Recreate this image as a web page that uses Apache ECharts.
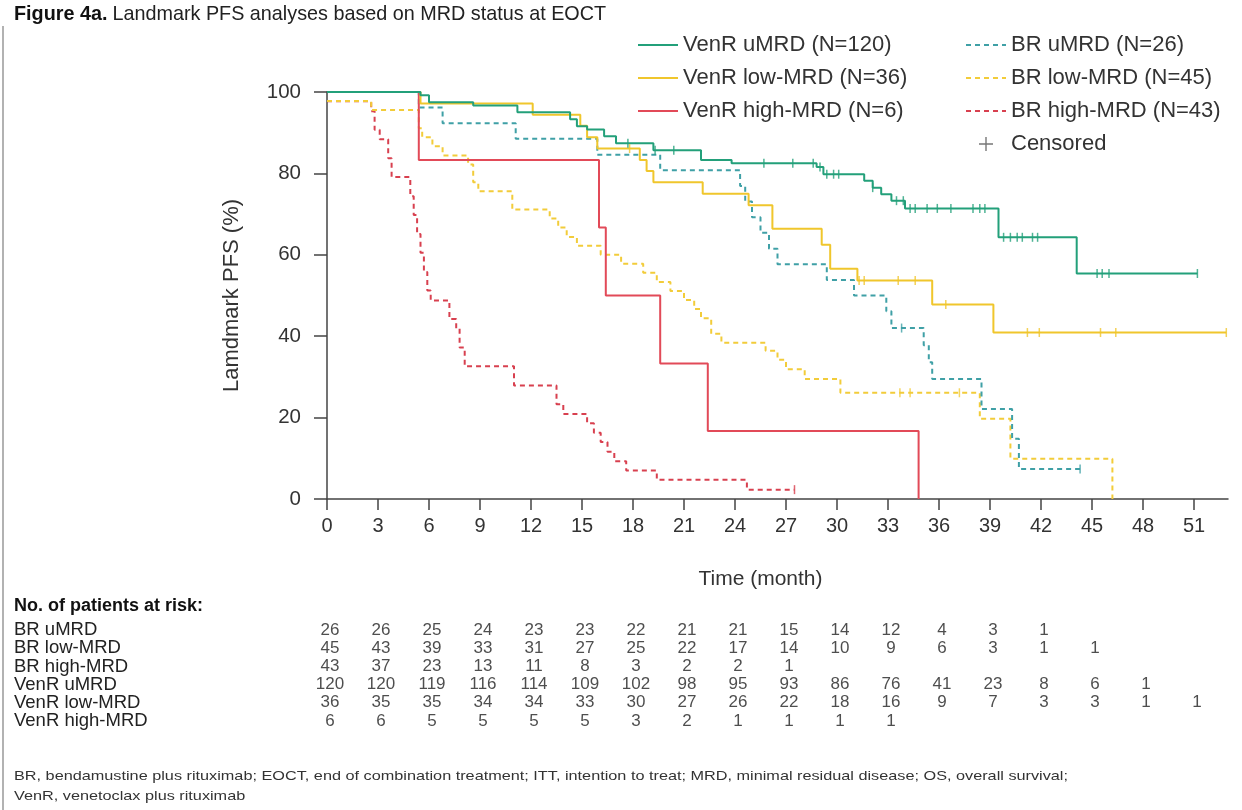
<!DOCTYPE html>
<html><head><meta charset="utf-8">
<script src="https://cdn.jsdelivr.net/npm/echarts@6/dist/echarts.min.js"></script>
<style>html,body{margin:0;padding:0;background:#fff}#c{width:1242px;height:810px}</style>
</head><body><div id="c"></div>
<script>
// ---------- data ----------
const xTicks = [0,3,6,9,12,15,18,21,24,27,30,33,36,39,42,45,48,51];
const yTicks = [0,20,40,60,80,100];

const nameVenrU = 'VenR uMRD (N=120)';
const nameVenrL = 'VenR low-MRD (N=36)';
const nameVenrH = 'VenR high-MRD (N=6)';
const nameBrU = 'BR uMRD (N=26)';
const nameBrL = 'BR low-MRD (N=45)';
const nameBrH = 'BR high-MRD (N=43)';
const nameCens = 'Censored';

// KM curves: [time (month), PFS % after event]
const venrUmrd = [[0,100],[5.5,99.2],[6.0,97.5],[8.6,96.7],[11.2,95.0],[14.3,93.3],[14.7,91.6],[15.3,90.8],[16.3,89.1],[17.0,87.4],[19.2,85.7],[22.0,83.3],[23.8,82.5],[28.8,81.6],[29.2,79.8],[31.6,78.2],[32.1,76.5],[32.6,74.9],[33.2,73.3],[34.0,71.4],[39.5,64.3],[44.1,55.4],[51.2,55.4]];
const venrLow = [[0,100],[5.5,97.2],[12.1,94.4],[14.9,91.7],[15.3,88.9],[15.9,86.1],[18.4,83.3],[18.8,80.6],[19.2,77.8],[22.1,75.0],[24.8,72.2],[26.2,66.4],[29.1,62.5],[29.6,56.6],[31.2,53.7],[35.6,47.8],[39.2,40.9],[52.9,40.9]];
const venrHigh = [[0,100],[5.4,83.3],[16.0,66.7],[16.4,50.0],[19.6,33.3],[22.4,16.7],[34.8,0]];
const brUmrd = [[0,100],[5.4,96.2],[6.8,92.3],[11.1,88.5],[15.9,84.6],[19.6,80.8],[24.3,76.9],[24.6,73.1],[25.0,69.2],[25.5,65.4],[26.0,61.5],[26.5,57.7],[29.4,53.8],[31.0,50.0],[32.9,46.1],[33.2,42.0],[35.1,37.8],[35.4,33.6],[35.6,29.5],[38.5,22.1],[40.3,14.8],[40.7,7.4],[44.3,7.4]];
const brLow = [[0,97.8],[2.6,95.6],[5.4,91.1],[5.6,88.9],[6.2,86.7],[6.8,84.4],[8.3,82.2],[8.6,77.8],[8.9,75.6],[10.9,71.1],[13.1,68.9],[13.6,66.7],[14.1,64.4],[14.7,62.2],[16.1,60.0],[17.3,57.8],[18.6,55.6],[19.4,53.3],[20.2,51.1],[21.0,48.9],[21.6,46.7],[22.0,44.4],[22.6,40.6],[23.2,38.4],[25.8,36.4],[26.5,34.2],[27.0,31.9],[28.1,29.5],[30.2,26.1],[38.4,19.7],[40.2,9.9],[46.2,0]];
const brHigh = [[0,97.7],[2.6,95.3],[2.8,90.7],[3.1,88.4],[3.6,83.7],[3.8,79.1],[4.9,74.4],[5.1,69.8],[5.3,65.1],[5.5,60.5],[5.7,55.8],[5.9,51.2],[6.1,48.8],[7.2,44.2],[7.6,41.9],[7.8,37.2],[8.1,32.6],[11.0,27.9],[13.5,23.3],[13.9,20.9],[15.3,18.6],[15.7,16.3],[16.1,14.0],[16.5,11.6],[16.9,9.3],[17.6,7.0],[19.4,4.7],[24.7,2.3],[27.5,2.3]];

// censoring times (month)
const venrUmrdCens = [17.7,19.3,20.4,25.7,27.4,28.6,29.0,29.4,29.8,30.1,32.1,33.5,33.9,34.3,34.6,35.3,35.9,36.7,38.0,38.4,38.7,39.8,40.2,40.6,40.9,41.5,41.8,45.3,45.6,46.0,51.2];
const venrLowCens = [17.8,31.3,31.6,33.6,34.6,36.4,41.2,41.9,45.5,46.4,52.9];
const brUmrdCens = [33.8,44.3];
const brLowCens = [33.7,34.3,37.2];
const brHighCens = [27.5];

// patients at risk
const riskLabels = ['BR uMRD','BR low-MRD','BR high-MRD','VenR uMRD','VenR low-MRD','VenR high-MRD'];
const riskBrU = [26,26,25,24,23,23,22,21,21,15,14,12,4,3,1];
const riskBrL = [45,43,39,33,31,27,25,22,17,14,10,9,6,3,1,1];
const riskBrH = [43,37,23,13,11,8,3,2,2,1];
const riskVenrU = [120,120,119,116,114,109,102,98,95,93,86,76,41,23,8,6,1];
const riskVenrL = [36,35,35,34,34,33,30,27,26,22,18,16,9,7,3,3,1,1];
const riskVenrH = [6,6,5,5,5,5,3,2,1,1,1,1];

const footnote1 = 'BR, bendamustine plus rituximab; EOCT, end of combination treatment; ITT, intention to treat; MRD, minimal residual disease; OS, overall survival;';
const footnote2 = 'VenR, venetoclax plus rituximab';

// ---------- chart ----------
const FONT = '"Liberation Sans", Arial, sans-serif';
const C = {
  venrU:'#23a07a', venrL:'#f0c62c', venrH:'#e24a58',
  brU:'#3fa0a6', brL:'#f2cc3a', brH:'#d8404f'
};
function stepAt(curve, t){ let v = curve[0][1]; for (const p of curve){ if (p[0] <= t) v = p[1]; } return v; }
function km(name, data, color, dashed, z){
  return { type:'line', name, data, step:'end', symbol:'none', silent:true, z,
    lineStyle:{color, width:2, type: dashed ? [5,4] : 'solid'}, itemStyle:{color} };
}
function cens(curve, times, color, z){
  return { type:'scatter', name:'cens', data: times.map(t => [t, stepAt(curve, t)]), symbol:'rect',
    symbolSize:[1.5,9], itemStyle:{color}, silent:true, z };
}
const riskRows = [riskBrU, riskBrL, riskBrH, riskVenrU, riskVenrL, riskVenrH];
const riskSeries = riskRows.map((row, r) => ({
  type:'scatter', xAxisIndex:1, yAxisIndex:1, silent:true, symbolSize:1,
  itemStyle:{color:'rgba(0,0,0,0)'},
  data: row.map((n, i) => [xTicks[i], riskLabels[r], n]),
  label:{show:true, position:'inside', formatter:p => String(p.value[2]), fontFamily:FONT, fontSize:17, color:'#222', offset:[3,0]}
}));

const plusPath = 'path://M9,0H11V20H9Z M0,9H20V11H0Z';
const legendText = {fontFamily:FONT, fontSize:22, color:'#333'};
const chart = echarts.init(document.getElementById('c'), null, {renderer:'canvas'});
chart.setOption({
  animation:false,
  backgroundColor:'#fff',
  textStyle:{fontFamily:FONT},
  title:{ left:9, top:0, text:'{b|Figure 4a.} {n|Landmark PFS analyses based on MRD status at EOCT}',
    textStyle:{ rich:{ b:{fontFamily:FONT, fontWeight:'bold', fontSize:19.8, color:'#111'}, n:{fontFamily:FONT, fontWeight:'normal', fontSize:19.8, color:'#222'} } } },
  legend:[
    { orient:'vertical', left:632, top:29, itemWidth:40, itemHeight:14, itemGap:11,
      itemStyle:{opacity:0},
      data:[nameVenrU, nameVenrL, nameVenrH], textStyle:legendText, selectedMode:false },
    { orient:'vertical', left:960, top:29, itemWidth:40, itemHeight:14, itemGap:11,
      itemStyle:{opacity:0},
      data:[nameBrU, nameBrL, nameBrH, {name:nameCens, icon:plusPath, itemStyle:{opacity:1, color:'#777'}}], textStyle:legendText, selectedMode:false }
  ],
  grid:[
    { left:327, right:14, top:92, bottom:311 },
    { left:327, right:14, top:621, height:109 }
  ],
  xAxis:[
    { type:'value', gridIndex:0, min:0, max:53, interval:3,
      name:'Time (month)', nameLocation:'middle', nameGap:70,
      nameTextStyle:{fontFamily:FONT, fontSize:21, color:'#333', padding:[0,34,0,0]},
      axisLine:{lineStyle:{color:'#444', width:1.5}},
      axisTick:{length:11, lineStyle:{color:'#444', width:1.5}, customValues:xTicks},
      axisLabel:{fontFamily:FONT, fontSize:20, color:'#333', margin:17, customValues:xTicks},
      splitLine:{show:false} },
    { type:'value', gridIndex:1, min:0, max:53, show:false }
  ],
  yAxis:[
    { type:'value', gridIndex:0, min:0, max:100, interval:20,
      name:'Lamdmark PFS (%)', nameLocation:'middle', nameGap:84, nameRotate:90,
      nameTextStyle:{fontFamily:FONT, fontSize:22, color:'#333'},
      axisLine:{show:true, lineStyle:{color:'#444', width:1.5}},
      axisTick:{show:true, length:13, lineStyle:{color:'#444', width:1.5}, customValues:yTicks},
      axisLabel:{fontFamily:FONT, fontSize:20.5, color:'#333', margin:26, customValues:yTicks},
      splitLine:{show:false} },
    { type:'category', gridIndex:1, data:riskLabels, inverse:true,
      axisLine:{show:false}, axisTick:{show:false}, splitLine:{show:false},
      axisLabel:{interval:0, align:'left', margin:313, fontFamily:FONT, fontSize:18.5, color:'#222'} }
  ],
  graphic:[
    { type:'line', shape:{x1:3, y1:26, x2:3, y2:810}, style:{stroke:'#999', lineWidth:1.5}, silent:true },
    { type:'text', left:14, top:597, style:{text:'No. of patients at risk:', font:'bold 18px ' + FONT, fill:'#111'} },
    { type:'text', x:14, y:770, scaleX:1.25, style:{text:footnote1, font:'13px ' + FONT, fill:'#333'} },
    { type:'text', x:14, y:790, scaleX:1.25, style:{text:footnote2, font:'13px ' + FONT, fill:'#333'} }
  ],
  series:[
    km(nameBrH, brHigh, C.brH, true, 2),
    km(nameBrL, brLow, C.brL, true, 2),
    km(nameBrU, brUmrd, C.brU, true, 3),
    km(nameVenrH, venrHigh, C.venrH, false, 4),
    km(nameVenrL, venrLow, C.venrL, false, 4),
    km(nameVenrU, venrUmrd, C.venrU, false, 5),
    cens(venrUmrd, venrUmrdCens, C.venrU, 6),
    cens(venrLow, venrLowCens, C.venrL, 6),
    cens(brUmrd, brUmrdCens, C.brU, 6),
    cens(brLow, brLowCens, C.brL, 6),
    cens(brHigh, brHighCens, C.brH, 6),
    { type:'scatter', name:nameCens, data:[], symbol:plusPath, itemStyle:{color:'#777'} },
    ...riskSeries
  ]
});
</script>
</body></html>
